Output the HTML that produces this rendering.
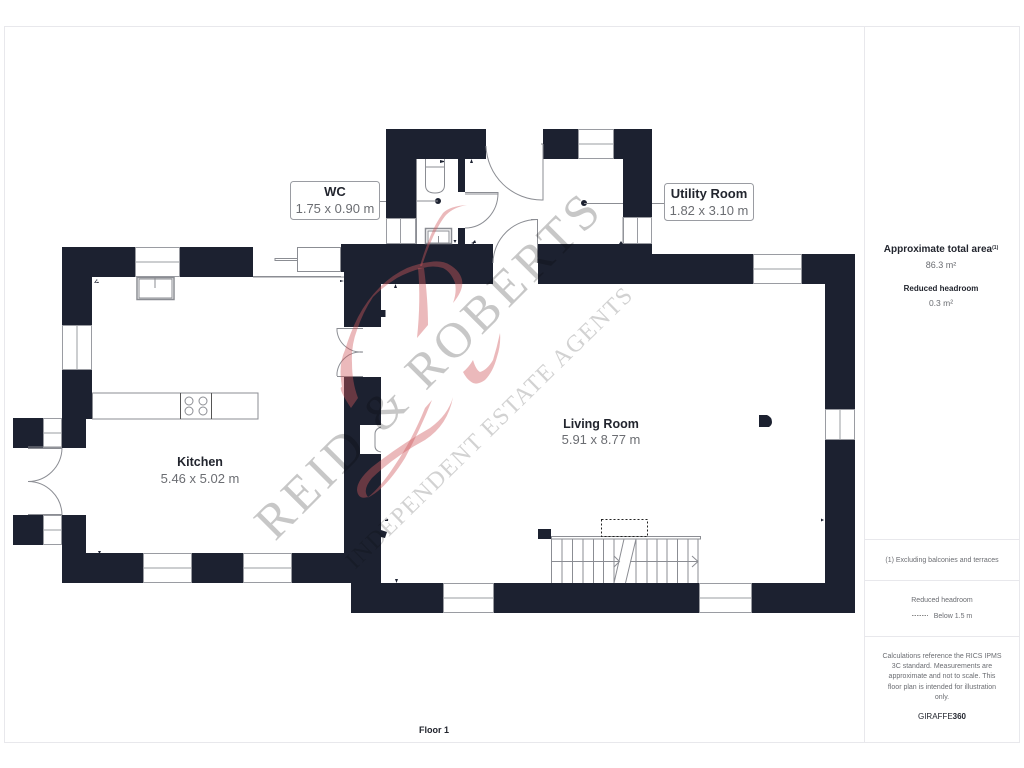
<!DOCTYPE html>
<html><head><meta charset="utf-8"><style>
html,body{margin:0;padding:0;background:#fff}
svg{display:block}
text{font-family:"Liberation Sans",sans-serif}
.w{fill:#1c2130}
.l{fill:none;stroke:#8b8d93;stroke-width:1}
.g{fill:#fff;stroke:#9a9ca2;stroke-width:1}
.t{fill:#22252e;font-weight:bold;text-anchor:middle}
.s{fill:#6b6d72;text-anchor:middle}
</style></head><body>
<svg width="1024" height="768" viewBox="0 0 1024 768" xmlns="http://www.w3.org/2000/svg">
<rect width="1024" height="768" fill="#fff"/>
<rect x="4.500" y="26.500" width="1015" height="716" fill="#fff" stroke="#e8e8ec"/>
<path d="M864.500 26V743M864 539.500H1020M864 580.500H1020M864 636.500H1020" stroke="#e8e8ec" fill="none"/>

<!-- walls -->
<g class="w">
<path d="M386 129H486V159H416V218H386Z"/>
<rect x="458" y="159" width="7" height="33"/><rect x="458" y="228" width="7" height="16"/>
<path d="M543 129H578V159H543Z"/>
<path d="M614 129H652V217H623V159H614Z"/>
<path d="M341 244H493V284H381V327H344V272H341Z"/>
<path d="M538 244H652V254H753V284H538Z"/>
<path d="M802 254H855V409H825V284H802Z"/>
<path d="M825 440H855V613H752V583H825Z"/>
<path d="M494 583H699V613H494Z"/>
<path d="M344 377H381V583H443V613H351V583H292V553H344Z"/>
<rect x="192" y="553" width="51" height="30"/>
<path d="M62 553H86V515H62ZM62 553H143V583H62Z"/>
<path d="M62 247H135V277H92V325H62Z"/>
<rect x="180" y="247" width="73" height="30"/>
<path d="M62 370H92V419H86V448H62Z"/>
<rect x="13" y="418" width="30" height="30"/><rect x="13" y="515" width="30" height="30"/>
<rect x="381" y="310" width="4.500" height="7"/>
<path d="M381 530L387 532L385 538L381 537Z"/>
<rect x="538" y="529" width="13" height="10"/>
<path d="M759 415H767Q772 417 772 422Q772 425 769 427H759Z"/>
<circle cx="438" cy="201" r="3"/><circle cx="584" cy="203" r="3"/>
</g>
<rect x="360" y="425" width="21" height="29" fill="#fff"/>
<path d="M381 427Q375 429 375 434V446Q375 451 381 452" class="l"/>

<!-- windows -->
<g class="g">
<rect x="386.500" y="218.500" width="29" height="25"/><path d="M400.500 218V244"/>
<rect x="578.500" y="129.500" width="35" height="29"/><path d="M578 144H614"/>
<rect x="623.500" y="217.500" width="28" height="26"/><path d="M637.500 217V244"/>
<rect x="753.500" y="254.500" width="48" height="29"/><path d="M753 269H802"/>
<rect x="825.500" y="409.500" width="29" height="30"/><path d="M840 409V440"/>
<rect x="443.500" y="583.500" width="50" height="29"/><path d="M443 598H494"/>
<rect x="699.500" y="583.500" width="52" height="29"/><path d="M699 598H752"/>
<rect x="135.500" y="247.500" width="44" height="29"/><path d="M135 262H180"/>
<rect x="62.500" y="325.500" width="29" height="44"/><path d="M77 325V370"/>
<rect x="143.500" y="553.500" width="48" height="29"/><path d="M143 568H192"/>
<rect x="243.500" y="553.500" width="48" height="29"/><path d="M243 568H292"/>
<rect x="43.500" y="418.500" width="18" height="29"/><path d="M43 433H62"/>
<rect x="43.500" y="515.500" width="18" height="29"/><path d="M43 530H62"/>
</g>

<!-- doors -->
<g class="l">
<path d="M486 146A56 56 0 0 0 542 200"/>
<path d="M541 144H543M541 200H543V144"/>
<path d="M537.500 219V263M493 263A44 44 0 0 1 537 219.500H531"/>
<path d="M465 192.500H498V194H465M498 193A33 35 0 0 1 465 228"/>
<path d="M28 448.500H62M28 447H62M62 448A34 34 0 0 1 28 481.500M62 515A34 34 0 0 0 28 481.500M28 514.500H62"/>
<path d="M337 328.500H363M337 328V331A24 24 0 0 0 363 352M337 376.500H363M337 376V373A24 24 0 0 1 363 352"/>
<path d="M253 277H344M253 276.500H341"/>
<rect x="297.500" y="247.500" width="43" height="24"/>
<path d="M275 258.500H297M275 260.500H297M275 258V261"/>
</g>

<!-- fixtures -->
<g class="l">
<rect x="137" y="277.500" width="37" height="22" stroke-width="1.500"/>
<rect x="139" y="279" width="33" height="19"/><path d="M155 277V288"/>
<rect x="92.500" y="393" width="165.500" height="26"/>
<path d="M180.500 393V419M211.500 393V419" stroke="#555"/>
<circle cx="189" cy="401" r="4"/><circle cx="203" cy="401" r="4"/><circle cx="189" cy="411" r="4"/><circle cx="203" cy="411" r="4"/>
<path d="M425.500 159V185Q425.500 193 435 193Q444.500 193 444.500 185V159M425.500 167H444.500"/>
<rect x="425.500" y="228.500" width="26" height="15" stroke-width="1.500"/>
<rect x="428" y="231" width="21" height="12"/><path d="M438.500 236V243"/>
<path d="M416.500 201H438M380 201.500H386M584 203.500H623M652 203.500H664"/>
<path d="M416.500 159V244M623 217V244"/>
</g>

<!-- stairs -->
<g class="l">
<rect x="551.500" y="536.500" width="149" height="2.500" fill="#fff"/>
<path d="M551.500 539V583M562 539V583M572.500 539V583M583 539V583M593.500 539V583M603.500 539V583M614 539V583M636 539V583M647 539V583M657 539V583M667 539V583M677.500 539V583M688 539V583M698 539V583"/>
<path d="M614 583L624 539M625.500 583L636 539" />
<path d="M551 561.500H619M614 556L619.500 561.500L614 567M630 561.500H698M692 556L698 561.500L692 567"/>
</g>
<rect x="601.500" y="519.500" width="46" height="17" fill="none" stroke="#222" stroke-dasharray="2 2"/>

<!-- small ticks -->
<g fill="#1c2130">
<path d="M94 283l4-1-1-3zM97 280l2 3h-4zM98 551h3l-1.500 3zM394 288l1.500-4 1.500 4zM388 521h-3v-1l3-1zM395 579h3l-1.500 4zM440 160l4 1v1l-4 1zM455 243l-1.500-3h3zM471 243l3-1v2zM472 243l3-3 1 3zM470 163l1.500-4 1.500 4zM824 520l-3-1.500v3zM619 244l2-3 2 3zM344 281l-4-1v2z"/>
</g>

<!-- labels -->
<rect x="290.500" y="181.500" width="89" height="38" rx="3" fill="#fff" stroke="#9a9ca2"/>
<rect x="664.500" y="183.500" width="89" height="37" rx="3" fill="#fff" stroke="#9a9ca2"/>
<text class="t" x="335" y="196" font-size="13">WC</text>
<text class="s" x="335" y="213" font-size="13">1.75 x 0.90 m</text>
<text class="t" x="709" y="198" font-size="13">Utility Room</text>
<text class="s" x="709" y="215" font-size="13">1.82 x 3.10 m</text>
<text class="t" x="200" y="466" font-size="12.500">Kitchen</text>
<text class="s" x="200" y="483" font-size="13">5.46 x 5.02 m</text>
<text class="t" x="601" y="428" font-size="12.500">Living Room</text>
<text class="s" x="601" y="444" font-size="13">5.91 x 8.77 m</text>
<text class="t" x="434" y="733" font-size="9">Floor 1</text>

<!-- side panel -->
<text class="t" x="941" y="252" font-size="10">Approximate total area<tspan font-size="5" dy="-3">(1)</tspan></text>
<text class="s" x="941" y="268" font-size="9">86.3 m²</text>
<text class="t" x="941" y="291" font-size="8">Reduced headroom</text>
<text class="s" x="941" y="306" font-size="8.500">0.3 m²</text>
<text class="s" x="942" y="562" font-size="7">(1) Excluding balconies and terraces</text>
<text class="s" x="942" y="602" font-size="7">Reduced headroom</text>
<text class="s" x="953" y="618" font-size="7">Below 1.5 m</text>
<path d="M912 615.500H928" stroke="#888" stroke-dasharray="1.500 1"/>
<text class="s" x="942" y="658" font-size="7">Calculations reference the RICS IPMS</text>
<text class="s" x="942" y="668" font-size="7">3C standard. Measurements are</text>
<text class="s" x="942" y="678" font-size="7">approximate and not to scale. This</text>
<text class="s" x="942" y="689" font-size="7">floor plan is intended for illustration</text>
<text class="s" x="942" y="699" font-size="7">only.</text>
<text x="942" y="719" font-size="8" text-anchor="middle" fill="#22252e">GIRAFFE<tspan font-weight="bold">360</tspan></text>

<!-- watermark -->
<g fill="#d0595e" fill-opacity=".42">
<path d="M351 408Q337 387 342 387Q338 365 345 350Q350 333 358 317Q367 300 380 287Q392 275 407 268Q420 263 430 262Q442 260 450 265Q460 271 462 280Q464 290 453 303Q457 292 455 283Q451 272 443 268Q433 265 423 268Q410 271 397 278Q384 286 373 297Q363 312 357 330Q351 346 352 363Q352 382 358 398Z"/>
<path d="M418 268L424 268Q428 300 428 325L417 338Q421 300 418 268Z"/>
<path d="M467 205Q450 206 443 213Q435 224 430 237Q424 252 420 266L422 266Q427 250 433 237Q440 222 446 215Q454 207 467 205Z"/>
<path d="M500 333Q501 345 497 357Q493 372 485 380Q478 385 473 383Q467 380 463 372Q469 367 473 360Q476 370 480 372Q487 370 493 360Q497 347 500 333Z"/>
<path d="M453 397Q448 415 430 428Q400 445 372 467Q357 480 357 490Q358 500 368 497Q362 490 372 478Q395 456 425 440Q448 425 453 397Z"/>
<path d="M367 498Q385 490 405 458Q420 430 432 400L425 408Q412 440 395 465Q380 488 367 498Z"/>
</g>
<g style="mix-blend-mode:multiply" fill="#8f8f8f">
<text transform="translate(275,542) rotate(-45)" font-size="50" fill-opacity=".5" textLength="463" lengthAdjust="spacing" style="font-family:'Liberation Serif',serif">REID &amp; ROBERTS</text>
<text transform="translate(355,570) rotate(-44.400)" font-size="24" fill-opacity=".4" textLength="390" lengthAdjust="spacing" style="font-family:'Liberation Serif',serif">INDEPENDENT ESTATE AGENTS</text>
</g>
</svg>
</body></html>
